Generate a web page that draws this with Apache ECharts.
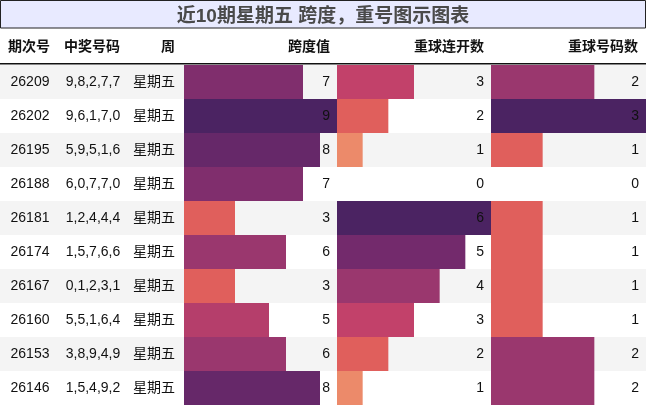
<!DOCTYPE html>
<html>
<head>
<meta charset="utf-8">
<script src="https://cdn.jsdelivr.net/npm/echarts@6/dist/echarts.min.js"></script>
<style>
  html, body { margin: 0; padding: 0; background: #fff; }
  #main { width: 646px; height: 406px; }
</style>
</head>
<body>
<div id="main"></div>
<script>
// table data, newest draw first
var periods = ["26209", "26202", "26195", "26188", "26181", "26174", "26167", "26160", "26153", "26146"];
var numbers = ["9,8,2,7,7", "9,6,1,7,0", "5,9,5,1,6", "6,0,7,7,0", "1,2,4,4,4", "1,5,7,6,6", "0,1,2,3,1", "5,5,1,6,4", "3,8,9,4,9", "1,5,4,9,2"];
var weekdays = ["星期五", "星期五", "星期五", "星期五", "星期五", "星期五", "星期五", "星期五", "星期五", "星期五"];
var spanValues = [7, 9, 8, 7, 3, 6, 3, 5, 6, 8];
var repeatRun = [3, 2, 1, 0, 6, 5, 4, 3, 2, 1];
var repeatCount = [2, 3, 1, 0, 1, 1, 1, 1, 2, 2];
var headers = ["期次号", "中奖号码", "周", "跨度值", "重球连开数", "重球号码数"];
var titleText = "近10期星期五 跨度，重号图示图表";

var FONT = '"Liberation Sans", "Noto Sans CJK SC", sans-serif';
var palette = ["#edb081", "#ec8a6a", "#e05f5c", "#c2416a", "#9a376e", "#732a6c", "#4b2362"];

document.addEventListener("DOMContentLoaded", function () {
  var chart = echarts.init(document.getElementById("main"), null, { renderer: "canvas" });

  var barCols = [spanValues, repeatRun, repeatCount];
  var colLeft = [184, 337, 491];
  var colWidth = [153, 154, 155];
  var top = 65, height = 340;

  var grids = [], xAxes = [], yAxes = [], series = [], visualMaps = [];

  barCols.forEach(function (vals, i) {
    grids.push({ left: colLeft[i], top: top, width: colWidth[i], height: height });
    xAxes.push({ type: "value", gridIndex: i, min: 0, max: Math.max.apply(null, vals), show: false });
    // right-hand axis carries the value text of each row
    yAxes.push({
      type: "category",
      gridIndex: i,
      data: vals.map(String),
      inverse: true,
      position: "right",
      z: 5,
      axisLine: { show: false },
      axisTick: { show: false },
      axisLabel: { inside: true, margin: 7, color: "#111", fontSize: 14, fontFamily: FONT },
    });
    series.push({
      type: "bar",
      xAxisIndex: i,
      yAxisIndex: i,
      barWidth: "100%",
      data: vals.map(function (v, k) { return [v, k]; }),
      encode: { x: 0, y: 1 },
      silent: true,
    });
    visualMaps.push({
      type: "continuous",
      show: false,
      seriesIndex: i,
      dimension: 0,
      min: 0,
      max: Math.max.apply(null, vals),
      inRange: { color: palette },
    });
  });

  // full-width grid: row stripes and the text columns
  grids.push({ left: 0, top: top, width: 646, height: height });
  xAxes.push({ type: "value", gridIndex: 3, min: 0, max: 1, show: false });
  yAxes.push({
    type: "category",
    gridIndex: 3,
    data: periods,
    inverse: true,
    z: 0,
    axisLine: { show: false },
    axisTick: { show: false },
    splitArea: { show: true, areaStyle: { color: ["#f4f4f4", "#ffffff"] } },
    axisLabel: {
      inside: true,
      margin: 0,
      formatter: function (val, idx) {
        return "{a|" + periods[idx] + "}{b|" + numbers[idx] + "}{c|" + weekdays[idx] + "}";
      },
      rich: {
        a: { width: 60, align: "center", fontSize: 14, color: "#111", fontFamily: FONT },
        b: { width: 66, align: "center", fontSize: 14, color: "#111", fontFamily: FONT },
        c: { width: 49, align: "right", fontSize: 14, color: "#111", fontFamily: FONT },
      },
    },
  });

  var headerX = [29, 92, 175, 330, 484, 638];
  var headerAlign = ["center", "center", "right", "right", "right", "right"];
  var graphics = [
    {
      type: "rect",
      shape: { x: 0.5, y: 0.5, width: 645, height: 27.5 },
      style: { fill: "#e8eaff", stroke: "#222", lineWidth: 1 },
      z: -1,
    },
    {
      type: "line",
      shape: { x1: 0, y1: 63.8, x2: 646, y2: 63.8 },
      style: { stroke: "#111", lineWidth: 1.5 },
    },
  ];
  headers.forEach(function (h, i) {
    graphics.push({
      type: "text",
      x: headerX[i],
      y: 47,
      style: {
        text: h,
        fill: "#111",
        font: "bold 14px " + FONT,
        textAlign: headerAlign[i],
        textVerticalAlign: "middle",
      },
    });
  });

  chart.setOption({
    animation: false,
    title: {
      text: titleText,
      left: "center",
      top: 2,
      textStyle: { fontSize: 19, fontWeight: "bold", color: "#4a4a4a", fontFamily: FONT },
    },
    grid: grids,
    xAxis: xAxes,
    yAxis: yAxes,
    visualMap: visualMaps,
    series: series,
    graphic: graphics,
  });
});
</script>
</body>
</html>
